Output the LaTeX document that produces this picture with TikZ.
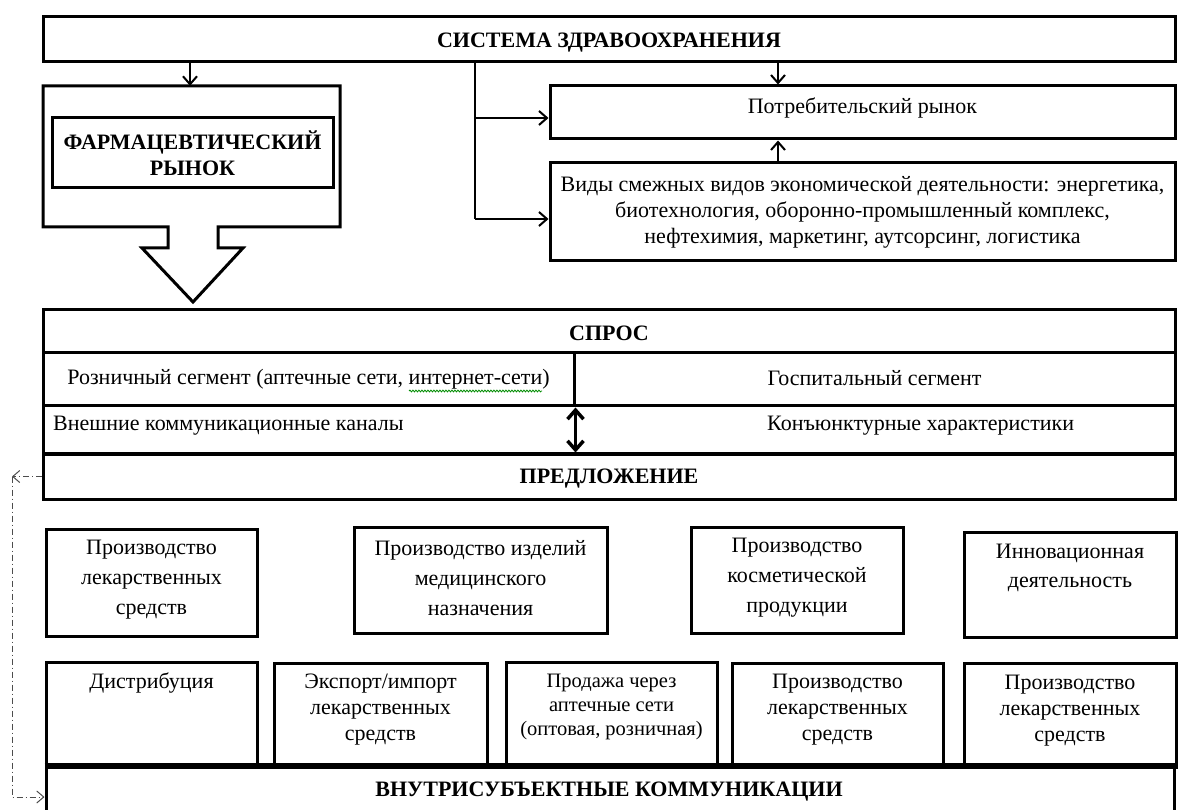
\documentclass[tikz,border=0pt]{standalone}
\usepackage{fontspec}
\setmainfont{Liberation Serif}
\usetikzlibrary{arrows.meta,decorations.pathmorphing}
\begin{document}
\begin{tikzpicture}[x=1pt,y=-1pt,
  box/.style={draw,line width=3pt,inner sep=0pt,align=center},
  tx/.style={inner sep=0pt,align=center,font=\fontsize{22}{26}\selectfont},
  txa/.style={inner sep=0pt,align=center,font=\fontsize{22}{30}\selectfont},
  txs/.style={inner sep=0pt,align=center,font=\fontsize{20.5}{24}\selectfont},
  hd/.style={inner sep=0pt,align=center,font=\fontsize{22}{25.5}\selectfont\bfseries},
  arr/.style={line width=2pt,-{Straight Barb[length=8pt,width=14pt,line width=2pt]}},
  dbl/.style={line width=3.5pt,{Straight Barb[length=9pt,width=16pt,line width=3.5pt]}-{Straight Barb[length=9pt,width=16pt,line width=3.5pt]}},
  dd/.style={line width=1pt,draw=black!70,dash pattern=on 6pt off 3pt on 1pt off 3pt,-{Straight Barb[length=7pt,width=12pt,line width=1pt]}}
]
\useasboundingbox (0,0) rectangle (1179,810);
\clip (0,0) rectangle (1179,810);

% top
\node[box,minimum width=1132pt,minimum height=45pt] (top) at (609,39.5) {};
\node[hd] (toptx) at (609,42.5) {СИСТЕМА ЗДРАВООХРАНЕНИЯ};

% pharma
\node[inner sep=0pt,minimum width=297pt,minimum height=141pt] (pharma) at (191.5,156.5) {};
\draw[line width=3pt,line join=miter] (43,86) -- (340,86) -- (340,227) -- (218,227) -- (218,248) -- (243,248) -- (193,302) -- (142,248) -- (168,248) -- (168,227) -- (43,227) -- cycle;
\node[box,minimum width=281pt,minimum height=70pt] (inner) at (192.5,153) {};
\node[hd] (innertx) at (192.5,153) {ФАРМАЦЕВТИЧЕСКИЙ\\РЫНОК};
\coordinate (ax) at (190,0);
\draw[arr] (top.south -| ax) -- (pharma.north -| ax);

% consumer market and adjacent
\node[box,minimum width=625pt,minimum height=53pt] (cons) at (862.5,112.5) {};
\node[tx] (constx) at (862.5,108) {Потребительский рынок};
\node[box,minimum width=625pt,minimum height=98pt,tx] (vidy) at (862.5,212) {Виды смежных видов экономической деятельности: энергетика,\\биотехнология, оборонно-промышленный комплекс,\\нефтехимия, маркетинг, аутсорсинг, логистика};
\coordinate (br) at (475,0);
\coordinate (cx) at (778,0);
\draw[line width=2pt] (top.south -| br) -- ([yshift=-7pt]vidy.west -| br);
\draw[arr] ([yshift=-5.5pt]cons.west -| br) -- ([yshift=-5.5pt]cons.west);
\draw[arr] ([yshift=-7pt]vidy.west -| br) -- ([yshift=-7pt]vidy.west);
\draw[arr] (top.south -| cx) -- (cons.north -| cx);
\draw[arr] (vidy.north -| cx) -- (cons.south -| cx);

% table
\node[box,minimum width=1132pt,minimum height=43pt] (spros) at (609,331.5) {};
\node[hd] (sprostx) at (609,333) {СПРОС};
\node[box,minimum width=531pt,minimum height=53pt,tx] (r2l) at (308.5,379.5) {Розничный сегмент (аптечные сети, интернет-сети)};
\draw[green!55!black,line width=0.8pt,decorate,decoration={snake,amplitude=0.9pt,segment length=3pt}] (409,391) -- (542,391);
\node[box,minimum width=601pt,minimum height=53pt] (r2r) at (874.5,379.5) {};
\node[tx] (hosp) at (874.5,378) {Госпитальный сегмент};
\node[box,minimum width=1132pt,minimum height=48pt] (r3) at (609,430) {};
\node[tx,anchor=west] (ext) at (53,426) {Внешние коммуникационные каналы};
\node[tx,anchor=west] (konj) at (767,426) {Конъюнктурные характеристики};
\node[box,minimum width=1132pt,minimum height=45pt] (predl) at (609,476.5) {};
\node[hd] (predltx) at (609,478.5) {ПРЕДЛОЖЕНИЕ};
\draw[dbl] (r2l.south east) -- (r2l.south east |- predl.north);

% row A
\node[box,minimum width=211pt,minimum height=107pt,txa] (b1) at (151.5,582.5) {};
\node[txa] (t1) at (151.5,580) {Производство\\лекарственных\\средств};
\node[box,minimum width=253pt,minimum height=106pt] (b2) at (480.5,580) {};
\node[txa] (t2) at (480.5,578) {Производство изделий\\медицинского\\назначения};
\node[box,minimum width=212pt,minimum height=106pt] (b3) at (797,580) {};
\node[txa] (t3) at (797,578) {Производство\\косметической\\продукции};
\node[box,minimum width=212pt,minimum height=105pt] (b4) at (1070,584.5) {};
\node[inner sep=0pt,align=center,font=\fontsize{22}{29}\selectfont,anchor=north] (t4) at ([yshift=-13pt]b4.north) {Инновационная\\деятельность};

% bottom box
\node[draw,line width=3pt,inner sep=0pt,minimum width=1128pt,minimum height=60pt] (bot) at (610,797) {};
\draw[line width=5pt] (bot.north west) -- (bot.north east);
\node[hd] (bottx) at (609,791.5) {ВНУТРИСУБЪЕКТНЫЕ КОММУНИКАЦИИ};

% row B
\node[box,minimum width=211pt,minimum height=105pt] (b5) at (151.5,714.5) {};
\node[tx,anchor=north] (t5) at ([yshift=-12pt]b5.north) {Дистрибуция};
\node[box,minimum width=213pt,minimum height=104pt] (b6) at (380.5,715) {};
\node[tx,anchor=north] (t6) at ([yshift=-12pt]b6.north) {Экспорт/импорт\\лекарственных\\средств};
\node[box,minimum width=211pt,minimum height=105pt] (b7) at (611.5,714.5) {};
\node[txs,anchor=north] (t7) at ([yshift=-13pt]b7.north) {Продажа через\\аптечные сети\\(оптовая, розничная)};
\node[box,minimum width=211pt,minimum height=104pt] (b8) at (837.5,715) {};
\node[tx,anchor=north] (t8) at ([yshift=-12pt]b8.north) {Производство\\лекарственных\\средств};
\node[box,minimum width=212pt,minimum height=104pt] (b9) at (1070,715) {};
\node[tx,anchor=north] (t9) at ([yshift=-13pt]b9.north) {Производство\\лекарственных\\средств};

% dash-dot feedback
\coordinate (corner) at (12,476.5);
\draw[dd] (predl.west) -- (corner);
\draw[dd] (corner) -- (corner |- bot.west) -- (bot.west);
\end{tikzpicture}
\end{document}
